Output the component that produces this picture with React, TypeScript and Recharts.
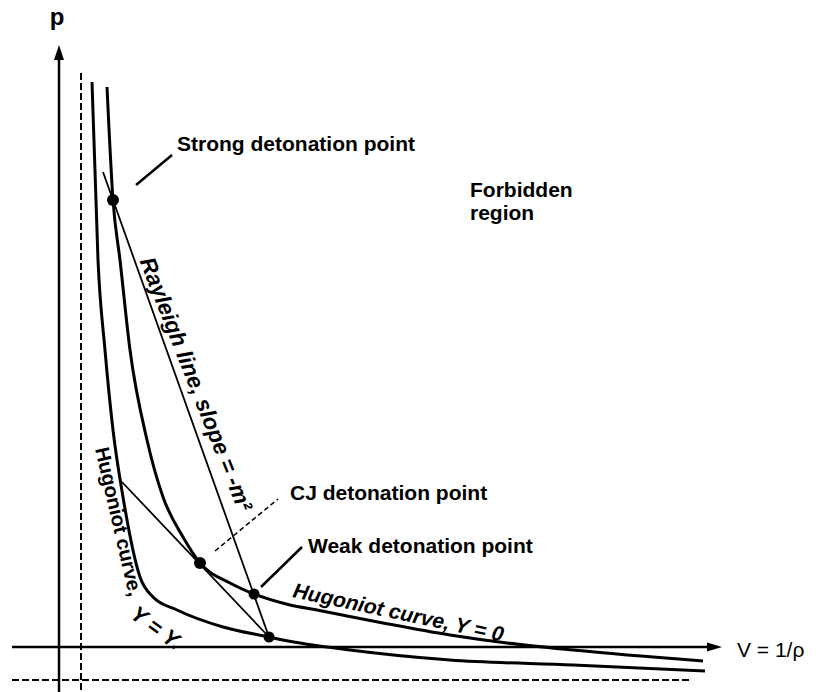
import { ComposedChart, Line, XAxis, YAxis, ReferenceDot } from 'recharts';

// schematic units: V to the right, p upward, origin where the two axes cross
const hugoniotY0 = [
  { v: 0.48, p: 5.6 }, { v: 0.54, p: 4.47 }, { v: 0.61, p: 3.87 }, { v: 0.71, p: 2.97 },
  { v: 0.88, p: 2.07 }, { v: 1.04, p: 1.5 }, { v: 1.24, p: 1.1 }, { v: 1.41, p: 0.84 },
  { v: 1.71, p: 0.64 }, { v: 1.95, p: 0.53 }, { v: 2.31, p: 0.42 }, { v: 2.58, p: 0.37 },
  { v: 3.24, p: 0.24 }, { v: 3.91, p: 0.12 }, { v: 4.48, p: 0.04 }, { v: 5.14, p: -0.03 },
  { v: 6.44, p: -0.14 },
];
const hugoniotYs = [
  { v: 0.33, p: 5.65 }, { v: 0.39, p: 3.87 }, { v: 0.46, p: 2.97 }, { v: 0.54, p: 2.17 },
  { v: 0.64, p: 1.5 }, { v: 0.81, p: 0.7 }, { v: 0.94, p: 0.5 }, { v: 1.18, p: 0.37 },
  { v: 1.64, p: 0.2 }, { v: 2.1, p: 0.1 }, { v: 2.24, p: 0.07 }, { v: 2.91, p: -0.03 },
  { v: 3.91, p: -0.13 }, { v: 5.14, p: -0.18 }, { v: 6.46, p: -0.24 },
];
const rayleigh = [{ v: 0.44, p: 4.75 }, { v: 2.1, p: 0.1 }];
const cjTangent = [{ v: 0.63, p: 1.65 }, { v: 2.1, p: 0.1 }];
const states = [
  { v: 0.54, p: 4.47, r: 6 },
  { v: 1.41, p: 0.84, r: 6 },
  { v: 1.95, p: 0.53, r: 5.5 },
  { v: 2.1, p: 0.1, r: 5.5 },
];
const pAxis = [{ v: 0, p: -0.45 }, { v: 0, p: 5.95 }];
const vAxis = [{ v: -0.47, p: 0 }, { v: 6.55, p: 0 }];
const vAsymptote = [{ v: 0.22, p: 5.74 }, { v: 0.22, p: -0.45 }];
const pAsymptote = [{ v: -0.47, p: -0.33 }, { v: 6.31, p: -0.33 }];
const strongLeader = [{ v: 0.77, p: 4.62 }, { v: 1.13, p: 4.92 }];
const weakLeader = [{ v: 2.02, p: 0.6 }, { v: 2.43, p: 1.0 }];
const cjLeader = [{ v: 1.56, p: 0.96 }, { v: 2.19, p: 1.48 }];

const labels = [
  { text: 'p', v: -0.02, p: 6.22, rot: 0, italic: false, bold: true, size: 24, anchor: 'middle' },
  { text: 'Strong detonation point', v: 1.18, p: 4.96, rot: 0, italic: false, bold: true, size: 21, anchor: 'start' },
  { text: 'Forbidden', v: 4.11, p: 4.5, rot: 0, italic: false, bold: true, size: 21, anchor: 'start' },
  { text: 'region', v: 4.11, p: 4.27, rot: 0, italic: false, bold: true, size: 21, anchor: 'start' },
  { text: 'CJ detonation point', v: 2.31, p: 1.47, rot: 0, italic: false, bold: true, size: 21, anchor: 'start' },
  { text: 'Weak detonation point', v: 2.49, p: 0.94, rot: 0, italic: false, bold: true, size: 21, anchor: 'start' },
  { text: 'V = 1/ρ', v: 6.78, p: -0.1, rot: 0, italic: false, bold: false, size: 21, anchor: 'start' },
  { text: 'Rayleigh line, slope = -m²', v: 1.3, p: 2.6, rot: 68.5, italic: true, bold: true, size: 22.5, anchor: 'middle' },
  { text: 'Hugoniot curve, Y = 0', v: 2.33, p: 0.5, rot: 12, italic: true, bold: true, size: 21, anchor: 'start' },
  { text: 'Hugoniot curve,', v: 0.36, p: 1.98, rot: 77, italic: false, bold: true, size: 20, anchor: 'start' },
  { text: 'Y = Y.', v: 0.7, p: 0.3, rot: 36, italic: true, bold: true, size: 22, anchor: 'start' },
];

const font = '"Liberation Sans", Arial, sans-serif';

function seg(data: { v: number; p: number }[], key: string, width: number, dash?: string) {
  return (
    <Line
      key={key}
      data={data}
      dataKey="p"
      type="linear"
      stroke="#000"
      strokeWidth={width}
      strokeDasharray={dash}
      dot={false}
      activeDot={false}
      isAnimationActive={false}
    />
  );
}

export default function App() {
  return (
    <div style={{ position: 'absolute', left: 0, top: 0, background: '#fff' }}>
      <ComposedChart width={821} height={692} margin={{ top: 0, right: 0, bottom: 0, left: 0 }}>
        <XAxis type="number" dataKey="v" domain={[-0.59, 7.62]} hide allowDataOverflow />
        <YAxis type="number" dataKey="p" domain={[-0.45, 6.47]} hide allowDataOverflow />
        {seg(pAxis, 'pAxis', 2.5)}
        {seg(vAxis, 'vAxis', 2.5)}
        {seg(vAsymptote, 'vAsym', 2, '7 3')}
        {seg(pAsymptote, 'pAsym', 2, '7 3')}
        {seg(rayleigh, 'rayleigh', 1.8)}
        {seg(cjTangent, 'cj', 1.8)}
        {seg(strongLeader, 'sl', 2.5)}
        {seg(weakLeader, 'wl', 2.5)}
        {seg(cjLeader, 'cl', 1.5, '5 3')}
        <Line data={hugoniotYs} dataKey="p" type="monotone" stroke="#000" strokeWidth={3} dot={false} activeDot={false} isAnimationActive={false} />
        <Line data={hugoniotY0} dataKey="p" type="monotone" stroke="#000" strokeWidth={3} dot={false} activeDot={false} isAnimationActive={false} />
        {states.map((s, i) => (
          <ReferenceDot key={'s' + i} x={s.v} y={s.p} r={s.r} fill="#000" stroke="none" />
        ))}
        <ReferenceDot
          x={0}
          y={6.02}
          r={1}
          shape={(props: any) => (
            <polygon points={`${props.cx},${props.cy} ${props.cx - 5},${props.cy + 15} ${props.cx + 5},${props.cy + 15}`} fill="#000" />
          )}
        />
        <ReferenceDot
          x={6.63}
          y={0}
          r={1}
          shape={(props: any) => (
            <polygon points={`${props.cx},${props.cy} ${props.cx - 15},${props.cy - 4.5} ${props.cx - 15},${props.cy + 4.5}`} fill="#000" />
          )}
        />
        {labels.map((l, i) => (
          <ReferenceDot
            key={'l' + i}
            x={l.v}
            y={l.p}
            r={1}
            shape={(props: any) => (
              <text
                x={props.cx}
                y={props.cy}
                transform={l.rot ? `rotate(${l.rot} ${props.cx} ${props.cy})` : undefined}
                textAnchor={l.anchor}
                fontFamily={font}
                fontSize={l.size}
                fontWeight={l.bold ? 'bold' : 'normal'}
                fontStyle={l.italic ? 'italic' : 'normal'}
                fill="#000"
              >
                {l.text}
              </text>
            )}
          />
        ))}
      </ComposedChart>
    </div>
  );
}
